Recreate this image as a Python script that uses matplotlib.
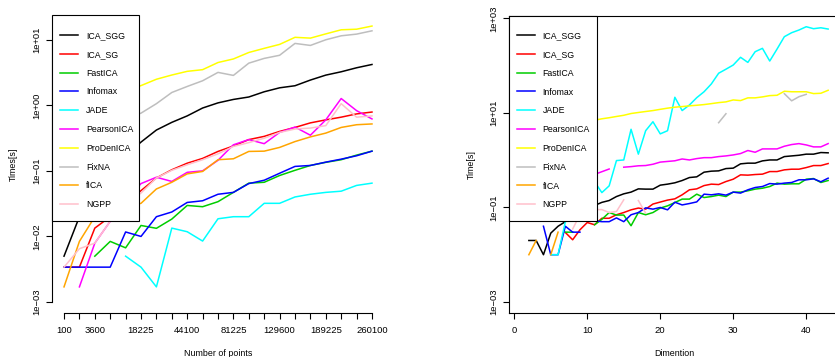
import numpy as np
import matplotlib
matplotlib.use("Agg")
import matplotlib.pyplot as plt
from matplotlib.patches import Rectangle
from matplotlib.ticker import NullLocator

plt.rcParams["font.family"] = ["Liberation Sans", "DejaVu Sans"]

nan = np.nan

methods = ["ICA_SGG", "ICA_SG", "FastICA", "Infomax", "JADE",
           "PearsonICA", "ProDenICA", "FixNA", "fICA", "NGPP"]
colors = ["#000000", "#FF0000", "#00CD00", "#0000FF", "#00FFFF",
          "#FF00FF", "#FFFF00", "#BEBEBE", "#FFA500", "#FFC0CB"]

# left panel: number of points (categorical axis)
n_points = [100, 1225, 3600, 7225, 12100, 18225, 25600, 34225, 44100, 55225, 67600,
            81225, 96100, 112225, 129600, 148225, 168100, 189225, 211600, 235225, 260100]
shown_points = [100, 3600, 18225, 44100, 81225, 129600, 189225, 260100]

pts_ica_sgg = [0.005, 0.02, 0.05, 0.1, 0.17, 0.275, 0.42, 0.55, 0.69, 0.91, 1.09,
               1.23, 1.34, 1.61, 1.85, 1.99, 2.43, 2.89, 3.25, 3.74, 4.2]
pts_ica_sg = [0.0034, 0.0034, 0.0134, 0.02, 0.03, 0.05, 0.078, 0.104, 0.131, 0.155, 0.198,
              0.24, 0.30, 0.336, 0.40, 0.46, 0.54, 0.60, 0.66, 0.74, 0.79]
pts_fastica = [nan, nan, 0.005, 0.0084, 0.0067, 0.0147, 0.0133, 0.0184, 0.0297, 0.0284, 0.0339,
               0.047, 0.065, 0.067, 0.085, 0.102, 0.121, 0.135, 0.148, 0.174, 0.20]
pts_infomax = [0.0034, 0.0034, 0.0034, 0.0034, 0.0117, 0.010, 0.020, 0.0236, 0.033, 0.035, 0.044,
               0.047, 0.064, 0.072, 0.092, 0.117, 0.121, 0.136, 0.151, 0.17, 0.20]
pts_jade = [nan, nan, nan, nan, 0.005, 0.0034, 0.0017, 0.0134, 0.0118, 0.0085, 0.0186,
            0.020, 0.020, 0.032, 0.032, 0.040, 0.044, 0.047, 0.049, 0.060, 0.065]
pts_pearson = [nan, 0.0017, 0.0079, 0.017, 0.035, 0.064, 0.08, 0.069, 0.095, 0.10, 0.145,
               0.25, 0.30, 0.26, 0.386, 0.466, 0.35, 0.60, 1.27, 0.83, 0.62]
pts_prodenica = [0.3, 0.6, 0.95, 1.3, 1.65, 2.0, 2.5, 2.9, 3.3, 3.5, 4.5,
                 5.1, 6.4, 7.4, 8.5, 10.9, 10.6, 12.3, 14.2, 14.5, 16.2]
pts_fixna = [0.1, 0.2, 0.35, 0.5, 0.62, 0.76, 1.06, 1.57, 1.94, 2.37, 3.18,
             2.86, 4.4, 5.2, 5.8, 8.8, 8.2, 10.0, 11.5, 12.2, 13.7]
pts_fica = [0.0017, 0.0084, 0.020, 0.024, 0.028, 0.032, 0.053, 0.067, 0.090, 0.098, 0.148,
            0.153, 0.198, 0.20, 0.228, 0.28, 0.33, 0.377, 0.46, 0.506, 0.52]
pts_ngpp = [0.0034, 0.0065, 0.0079, 0.017, 0.03, 0.046, 0.078, 0.102, 0.124, 0.148, 0.182,
            0.236, 0.27, 0.315, 0.386, 0.435, 0.45, 0.49, 1.06, 0.66, 0.69]

# right panel: dimension 1..43
dims = list(range(1, 44))

dim_ica_sgg = [nan, 0.02, 0.02, 0.01, 0.0286, 0.04, 0.05, 0.06, 0.075, 0.09,
               0.11, 0.128, 0.14, 0.17, 0.194, 0.211, 0.247, 0.244, 0.244, 0.296,
               0.311, 0.332, 0.371, 0.429, 0.444, 0.557, 0.585, 0.594, 0.664, 0.678,
               0.836, 0.864, 0.864, 0.966, 1.01, 1.01, 1.19, 1.23, 1.27, 1.34,
               1.34, 1.45, 1.43]
dim_ica_sg = [nan, nan, nan, nan, nan, nan, 0.0295, 0.0207, 0.0337, 0.048,
              0.043, 0.059, 0.059, 0.070, 0.078, 0.089, 0.097, 0.092, 0.118, 0.13,
              0.143, 0.152, 0.185, 0.236, 0.247, 0.29, 0.311, 0.305, 0.353, 0.396,
              0.489, 0.482, 0.497, 0.506, 0.574, 0.574, 0.624, 0.644, 0.644, 0.697,
              0.769, 0.769, 0.848]
dim_fastica = [nan, nan, nan, nan, nan, nan, 0.03, 0.03, nan, nan,
               0.043, 0.056, 0.078, 0.069, 0.069, 0.041, 0.078, 0.070, 0.078, 0.097,
               0.108, 0.127, 0.15, 0.15, 0.191, 0.162, 0.17, 0.182, 0.17, 0.211,
               0.211, 0.225, 0.244, 0.255, 0.277, 0.327, 0.311, 0.316, 0.316, 0.396,
               0.408, 0.337, 0.371]
dim_infomax = [nan, nan, nan, 0.04, 0.01, 0.01, 0.04, 0.03, 0.03, nan,
               0.052, 0.05, 0.05, 0.06, 0.05, 0.07, 0.078, 0.098, 0.092, 0.0998,
               0.089, 0.129, 0.113, 0.121, 0.131, 0.191, 0.185, 0.194, 0.182, 0.211,
               0.201, 0.236, 0.264, 0.277, 0.32, 0.311, 0.327, 0.337, 0.384, 0.384,
               0.403, 0.349, 0.416]
dim_jade = [nan, nan, nan, nan, 0.01, 0.01, 0.05, 0.08, 0.1, 0.15,
            0.35, 0.206, 0.286, 0.98, 1.01, 4.5, 1.34, 4.2, 6.5, 3.6,
            4.2, 21.4, 11.2, 14.7, 21.0, 28.0, 41.0, 69.0, 84.0, 103.0,
            150.0, 117.0, 197.0, 232.0, 125.0, 224.0, 409.0, 497.0, 566.0, 665.0,
            604.0, 632.0, 594.0]
dim_pearson = [nan, nan, nan, nan, nan, nan, nan, 0.2, 0.3, 0.4,
               0.5, 0.57, 0.65, nan, 0.71, 0.73, 0.76, 0.77, 0.82, 0.91,
               0.94, 0.97, 1.06, 1.01, 1.08, 1.13, 1.13, 1.19, 1.23, 1.29,
               1.38, 1.60, 1.47, 1.73, 1.73, 1.73, 1.97, 2.14, 2.24, 2.10,
               1.91, 1.91, 2.24]
dim_prodenica = [nan, 3.0, 3.4, 3.8, 4.2, 4.6, 5.0, 5.5, 6.0, 6.5,
                 7.0, 7.5, 7.9, 8.4, 8.9, 9.7, 10.2, 10.7, 11.2, 11.9,
                 12.6, 13.2, 13.6, 14.1, 14.5, 15.0, 15.7, 16.5, 17.1, 18.8,
                 18.2, 20.8, 20.8, 21.8, 23.2, 23.6, 28.7, 28.0, 28.0, 28.0,
                 25.6, 26.0, 30.1]
dim_fixna = [nan] * 27 + [6.2, 9.6] + [nan] * 7 + [25.5, 18.0, 22.0, 24.7] + [nan] * 3
dim_fica = [nan, 0.01, 0.02, nan, 0.01, 0.03] + [nan] * 37
dim_ngpp = [nan] * 7 + [0.035, 0.07, 0.08, 0.09, 0.09, 0.078, 0.082, 0.145, nan,
                        0.14, 0.076] + [nan] * 25

pts_series = [pts_ica_sgg, pts_ica_sg, pts_fastica, pts_infomax, pts_jade,
              pts_pearson, pts_prodenica, pts_fixna, pts_fica, pts_ngpp]
dim_series = [dim_ica_sgg, dim_ica_sg, dim_fastica, dim_infomax, dim_jade,
              dim_pearson, dim_prodenica, dim_fixna, dim_fica, dim_ngpp]

W, H = 835, 357
fig = plt.figure(figsize=(W / 100, H / 100), dpi=100)


def px_box(l, t, r, b):
    return [l / W, 1 - b / H, (r - l) / W, (b - t) / H]


def style_ticks(ax):
    ax.tick_params(direction="out", length=4.1, width=0.8, labelsize=6.8, colors="black")
    ax.tick_params(axis="x", pad=5.5)
    ax.tick_params(axis="y", pad=3.5)
    ax.yaxis.set_minor_locator(NullLocator())
    for lab in ax.get_yticklabels():
        lab.set_rotation(90)
        lab.set_va("center")


def add_legend(ax, x0, y0, box_w, box_b):
    ax.add_patch(Rectangle((0, box_b), box_w, 1 - box_b, transform=ax.transAxes,
                           facecolor="white", edgecolor="black", lw=0.8,
                           zorder=10, clip_on=False))
    leg = ax.legend(loc="upper left", bbox_to_anchor=(x0, y0), borderaxespad=0,
                    borderpad=0, frameon=False, fontsize=6.3, handlelength=2.09,
                    handletextpad=0.88, labelspacing=1.12)
    leg.set_zorder(11)


# ---- left: time vs number of points ----
ax1 = fig.add_axes(px_box(51.7, 15, 384.3, 313))
x_pts = np.arange(len(n_points))
for vals, c, name in zip(pts_series, colors, methods):
    ax1.plot(x_pts, vals, color=c, lw=1.1, label=name)
ax1.set_yscale("log")
ax1.set_xlim(-0.8, len(n_points) - 0.2)
ax1.set_ylim(10 ** -3.168, 10 ** 1.378)
ax1.spines["top"].set_visible(False)
ax1.spines["right"].set_visible(False)
ax1.spines["left"].set_bounds(1e-3, 1e1)
ax1.spines["bottom"].set_bounds(0, len(n_points) - 1)
for sp in ax1.spines.values():
    sp.set_linewidth(0.8)
ax1.set_xticks(x_pts)
ax1.set_xticklabels([str(n) if n in shown_points else "" for n in n_points])
ax1.set_yticks([1e-3, 1e-2, 1e-1, 1, 10])
ax1.set_yticklabels(["1e\u221203", "1e\u221202", "1e\u221201", "1e+00", "1e+01"])
style_ticks(ax1)
ax1.set_xlabel("Number of points", fontsize=6.4, labelpad=10)
ax1.set_ylabel("Times[s]", fontsize=6.4, labelpad=10)
add_legend(ax1, 0.025, 0.946, 0.263, 0.309)

# ---- right: time vs dimension ----
ax2 = fig.add_axes(px_box(509.3, 15.7, 840.4, 313))
for vals, c, name in zip(dim_series, colors, methods):
    ax2.plot(dims, vals, color=c, lw=1.1, label=name)
ax2.set_yscale("log")
ax2.set_xlim(-0.68, 44.68)
ax2.set_ylim(10 ** -3.233, 10 ** 3.056)
for sp in ax2.spines.values():
    sp.set_linewidth(0.8)
ax2.set_xticks([0, 10, 20, 30, 40])
ax2.set_yticks([1e-3, 1e-1, 1e1, 1e3])
ax2.set_yticklabels(["1e\u221203", "1e\u221201", "1e+01", "1e+03"])
style_ticks(ax2)
ax2.set_xlabel("Dimention", fontsize=6.4, labelpad=10)
ax2.set_ylabel("Time[s]", fontsize=6.4, labelpad=10)
add_legend(ax2, 0.0223, 0.948, 0.264, 0.3095)

fig.savefig("out.png", dpi=100, facecolor="white")
